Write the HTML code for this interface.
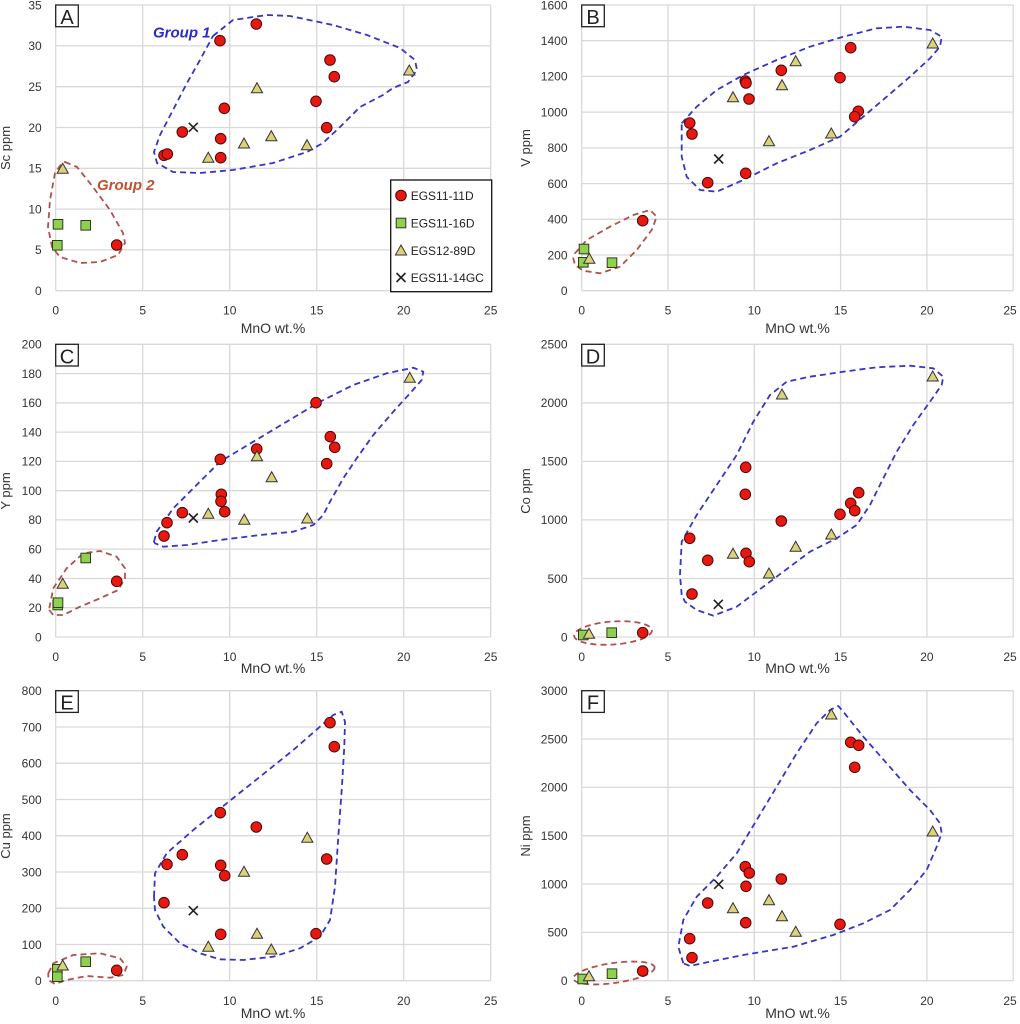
<!DOCTYPE html>
<html><head><meta charset="utf-8"><style>
html,body{margin:0;padding:0;background:#fff;}
svg{display:block;font-family:"Liberation Sans",sans-serif;}
.g{stroke:#d9d9d9;stroke-width:1.3;fill:none}
.t{font-size:12px;fill:#333}
.ax{font-size:14px;fill:#333}
.yt{font-size:13px;fill:#333}
.bl{fill:none;stroke:#3535c8;stroke-width:1.8;stroke-dasharray:6 4;stroke-linejoin:round}
.rd{fill:none;stroke:#b0524b;stroke-width:1.8;stroke-dasharray:6 4;stroke-linejoin:round}
.lb{fill:#fff;stroke:#222;stroke-width:1.3}
.lt{font-size:20px;fill:#222}
</style></head><body>
<svg width="1020" height="1024" viewBox="0 0 1020 1024" xmlns="http://www.w3.org/2000/svg">
<defs>
<g id="c"><circle cx="0" cy="0" r="5.3" fill="#e8170f" stroke="#4a0a0a" stroke-width="1"/></g>
<g id="s"><rect x="-4.8" y="-4.8" width="9.6" height="9.6" fill="#8ed14f" stroke="#2f3a1f" stroke-width="1"/></g>
<g id="tr"><polygon points="0,-6 5.6,4 -5.6,4" fill="#ddd27c" stroke="#333" stroke-width="1"/></g>
<g id="x"><path d="M-4.5 -4.5L4.5 4.5M-4.5 4.5L4.5 -4.5" stroke="#222" stroke-width="1.6"/></g>
</defs>
<rect width="1020" height="1024" fill="#fff"/>

<!-- ===== Panel A ===== -->
<path class="g" d="M55.7 5V290.7M142.7 5V290.7M229.7 5V290.7M316.7 5V290.7M403.7 5V290.7M490.7 5V290.7M55.7 5H490.7M55.7 45.9H490.7M55.7 86.7H490.7M55.7 127.5H490.7M55.7 168.3H490.7M55.7 209.1H490.7M55.7 249.9H490.7M55.7 290.7H490.7"/>
<g class="t" text-anchor="end">
<text x="41.7" y="295">0</text><text x="41.7" y="254.2">5</text><text x="41.7" y="213.4">10</text><text x="41.7" y="172.6">15</text><text x="41.7" y="131.8">20</text><text x="41.7" y="91">25</text><text x="41.7" y="50.2">30</text><text x="41.7" y="9.3">35</text>
</g>
<g class="t" text-anchor="middle">
<text x="55.7" y="314.5">0</text><text x="142.7" y="314.5">5</text><text x="229.7" y="314.5">10</text><text x="316.7" y="314.5">15</text><text x="403.7" y="314.5">20</text><text x="490.7" y="314.5">25</text>
</g>
<text class="ax" x="273" y="333" text-anchor="middle">MnO wt.%</text>
<text class="yt" transform="translate(10,148) rotate(-90)" text-anchor="middle">Sc ppm</text>
<polygon class="bl" points="213,36 233,20 267,15 290,16 333,25 367,35 400,48 415,60 417,70 408,82 393,88 383,95 360,107 340,127 323,143 307,152 273,163 233,170 200,173 173,172 157,163 154,152 160,135 173,110 187,83 200,60"/>
<polygon class="rd" points="65,162 77,167 93,187 110,210 123,233 125,243 118,255 100,262 80,263 60,257 52,247 48,227 50,200 55,173 62,163"/>
<text x="153" y="37.5" font-size="15" font-weight="bold" font-style="italic" fill="#2a2ad0">Group 1</text>
<text x="97" y="190" font-size="15" font-weight="bold" font-style="italic" fill="#c0502e">Group 2</text>
<use href="#c" x="256.3" y="24"/><use href="#c" x="220" y="40.7"/><use href="#c" x="330" y="60"/><use href="#c" x="334.3" y="76.7"/><use href="#c" x="224.3" y="108.3"/><use href="#c" x="316" y="101.3"/><use href="#c" x="182.3" y="132"/><use href="#c" x="326.7" y="127.7"/><use href="#c" x="220.7" y="138.7"/><use href="#c" x="220.7" y="157.7"/><use href="#c" x="164" y="155.3"/><use href="#c" x="167.3" y="154"/><use href="#c" x="116.7" y="245"/>
<use href="#tr" x="257" y="88.7"/><use href="#tr" x="409.3" y="71"/><use href="#tr" x="271.3" y="136.7"/><use href="#tr" x="244" y="144"/><use href="#tr" x="208.3" y="158.3"/><use href="#tr" x="307" y="145.7"/><use href="#tr" x="62.7" y="169.3"/>
<use href="#s" x="58" y="224.3"/><use href="#s" x="85.7" y="225.3"/><use href="#s" x="57.3" y="245.3"/>
<use href="#x" x="193.3" y="127.3"/>
<rect class="lb" x="55.7" y="5" width="22.6" height="21.7"/>
<text class="lt" x="67" y="24" text-anchor="middle">A</text>
<!-- legend -->
<rect x="390.7" y="180" width="101" height="111.7" fill="#fff" stroke="#111" stroke-width="1.3"/>
<use href="#c" x="401" y="195.5"/><use href="#s" x="401" y="223"/><use href="#tr" x="401" y="251"/><use href="#x" x="401" y="277.5"/>
<g font-size="12" fill="#222">
<text x="410.7" y="199.8">EGS11-11D</text><text x="410.7" y="227.3">EGS11-16D</text><text x="410.7" y="254.8">EGS12-89D</text><text x="410.7" y="281.8">EGS11-14GC</text>
</g>

<!-- ===== Panel B ===== -->
<path class="g" d="M581.7 5V290.7M668 5V290.7M754.3 5V290.7M840.6 5V290.7M926.9 5V290.7M1013.2 5V290.7M581.7 5H1013.2M581.7 40.7H1013.2M581.7 76.4H1013.2M581.7 112.1H1013.2M581.7 147.9H1013.2M581.7 183.6H1013.2M581.7 219.3H1013.2M581.7 255H1013.2M581.7 290.7H1013.2"/>
<g class="t" text-anchor="end">
<text x="567.5" y="295">0</text><text x="567.5" y="259.3">200</text><text x="567.5" y="223.6">400</text><text x="567.5" y="187.9">600</text><text x="567.5" y="152.2">800</text><text x="567.5" y="116.4">1000</text><text x="567.5" y="80.7">1200</text><text x="567.5" y="45">1400</text><text x="567.5" y="9.3">1600</text>
</g>
<g class="t" text-anchor="middle">
<text x="581.7" y="314.5">0</text><text x="668" y="314.5">5</text><text x="754.3" y="314.5">10</text><text x="840.6" y="314.5">15</text><text x="926.9" y="314.5">20</text><text x="1010" y="314.5">25</text>
</g>
<text class="ax" x="797.5" y="333" text-anchor="middle">MnO wt.%</text>
<text class="yt" transform="translate(530,148) rotate(-90)" text-anchor="middle">V ppm</text>
<polygon class="bl" points="681.7,123.3 696.7,106.7 716.7,90 743.3,75 776.7,60 810,46.7 843.3,36.7 876.7,28.3 903.3,26.7 930,30 941.7,36.7 940,46.7 930,58.3 910,76.7 886.7,96.7 863.3,116.7 840,136.7 810,150 776.7,163.3 743.3,180 716.7,191.7 700,190 686.7,176.7 681.7,156.7 681.7,136.7"/>
<polygon class="rd" points="575,253.3 586.7,240 610,226.7 633.3,215 650,210 656.7,216.7 651.7,230 636.7,250 620,266.7 600,273.3 583.3,270.7 575,265 573.3,258.3"/>
<use href="#c" x="850.7" y="47.7"/><use href="#c" x="781.3" y="70.3"/><use href="#c" x="840" y="77.7"/><use href="#c" x="745.3" y="81"/><use href="#c" x="746" y="83"/><use href="#c" x="749" y="99"/><use href="#c" x="858.3" y="111.3"/><use href="#c" x="854.7" y="116.7"/><use href="#c" x="689.7" y="123"/><use href="#c" x="692" y="134"/><use href="#c" x="745.7" y="173.3"/><use href="#c" x="707.7" y="182.7"/><use href="#c" x="642.7" y="220.7"/>
<use href="#s" x="584" y="249"/><use href="#s" x="583.3" y="262.3"/><use href="#s" x="612" y="262.7"/>
<use href="#tr" x="932.7" y="44"/><use href="#tr" x="795.7" y="61.7"/><use href="#tr" x="782" y="85.7"/><use href="#tr" x="733" y="97.7"/><use href="#tr" x="769" y="141.7"/><use href="#tr" x="831.3" y="134"/><use href="#tr" x="589.3" y="259.3"/>
<use href="#x" x="718.7" y="159"/>
<rect class="lb" x="581.7" y="5" width="22.6" height="21.7"/>
<text class="lt" x="593" y="24" text-anchor="middle">B</text>

<!-- ===== Panel C ===== -->
<path class="g" d="M55.7 344.3V637M142.7 344.3V637M229.7 344.3V637M316.7 344.3V637M403.7 344.3V637M490.7 344.3V637M55.7 344.3H490.7M55.7 373.6H490.7M55.7 402.8H490.7M55.7 432.1H490.7M55.7 461.4H490.7M55.7 490.7H490.7M55.7 519.9H490.7M55.7 549.2H490.7M55.7 578.5H490.7M55.7 607.7H490.7M55.7 637H490.7"/>
<g class="t" text-anchor="end">
<text x="41.7" y="641.3">0</text><text x="41.7" y="612">20</text><text x="41.7" y="582.8">40</text><text x="41.7" y="553.5">60</text><text x="41.7" y="524.2">80</text><text x="41.7" y="495">100</text><text x="41.7" y="465.7">120</text><text x="41.7" y="436.4">140</text><text x="41.7" y="407.1">160</text><text x="41.7" y="377.9">180</text><text x="41.7" y="348.6">200</text>
</g>
<g class="t" text-anchor="middle">
<text x="55.7" y="661">0</text><text x="142.7" y="661">5</text><text x="229.7" y="661">10</text><text x="316.7" y="661">15</text><text x="403.7" y="661">20</text><text x="490.7" y="661">25</text>
</g>
<text class="ax" x="273" y="673" text-anchor="middle">MnO wt.%</text>
<text class="yt" transform="translate(10,491) rotate(-90)" text-anchor="middle">Y ppm</text>
<polygon class="bl" points="154,541.7 156.7,531.7 173.3,508.3 193.3,488.3 220,461.7 253.3,441.7 286.7,421.7 320,401.7 353.3,385 386.7,373.3 413.3,367.7 423.3,371.7 421.7,380 410,393.3 393.3,411.7 373.3,435 356.7,458.3 343.3,478.3 330,501.7 323.3,515 313.3,525 293.3,531.7 260,535 220,540 186.7,545 163.3,546.7 155,543.3"/>
<polygon class="rd" points="49.3,608.3 53.3,588.3 66.7,568.3 83.3,553.3 100,551 116.7,556.7 125,568.3 125,578.3 118.3,590 100,598.3 80,606.7 63.3,615 53.3,615 49.3,610"/>
<use href="#c" x="316" y="402.7"/><use href="#c" x="330.3" y="436.7"/><use href="#c" x="334.7" y="447.3"/><use href="#c" x="256.7" y="449"/><use href="#c" x="220.3" y="459.3"/><use href="#c" x="326.7" y="463.7"/><use href="#c" x="221.3" y="494.3"/><use href="#c" x="221" y="501.3"/><use href="#c" x="224.7" y="511.7"/><use href="#c" x="182.3" y="512.7"/><use href="#c" x="167" y="522.7"/><use href="#c" x="164" y="536"/><use href="#c" x="116.7" y="581.3"/>
<use href="#tr" x="409.7" y="378.3"/><use href="#tr" x="257" y="456.7"/><use href="#tr" x="271.7" y="477.7"/><use href="#tr" x="208.3" y="514.3"/><use href="#tr" x="244.3" y="520.3"/><use href="#tr" x="307.3" y="519"/><use href="#tr" x="62.7" y="584.3"/>
<use href="#s" x="85.7" y="558"/><use href="#s" x="57.7" y="605"/><use href="#s" x="58" y="602.7"/>
<use href="#x" x="193.3" y="518"/>
<rect class="lb" x="55.7" y="344.3" width="22.6" height="21.7"/>
<text class="lt" x="67" y="363.3" text-anchor="middle">C</text>

<!-- ===== Panel D ===== -->
<path class="g" d="M581.7 344.3V637M668 344.3V637M754.3 344.3V637M840.6 344.3V637M926.9 344.3V637M1013.2 344.3V637M581.7 344.3H1013.2M581.7 402.8H1013.2M581.7 461.4H1013.2M581.7 519.9H1013.2M581.7 578.5H1013.2M581.7 637H1013.2"/>
<g class="t" text-anchor="end">
<text x="567.5" y="641.3">0</text><text x="567.5" y="582.8">500</text><text x="567.5" y="524.2">1000</text><text x="567.5" y="465.7">1500</text><text x="567.5" y="407.1">2000</text><text x="567.5" y="348.6">2500</text>
</g>
<g class="t" text-anchor="middle">
<text x="581.7" y="661">0</text><text x="668" y="661">5</text><text x="754.3" y="661">10</text><text x="840.6" y="661">15</text><text x="926.9" y="661">20</text><text x="1010" y="661">25</text>
</g>
<text class="ax" x="797.5" y="673" text-anchor="middle">MnO wt.%</text>
<text class="yt" transform="translate(530,491) rotate(-90)" text-anchor="middle">Co ppm</text>
<polygon class="bl" points="681.7,595 680,575 681.7,541.7 696.7,515 716.7,485 736.7,455 753.3,421.7 770,395 786.7,381.7 810,376.7 843.3,371.7 876.7,367.3 910,365.7 933.3,368.3 943.3,376.7 941.7,385 930,401.7 913.3,425 896.7,451.7 883.3,478.3 870,505 856.7,525 836.7,538.3 810,551.7 783.3,571.7 756.7,591.7 736.7,606.7 713.3,615.7 696.7,610 685,601.7"/>
<ellipse class="rd" cx="613" cy="633" rx="39" ry="11.5" transform="rotate(-4 613 633)"/>
<use href="#c" x="745.7" y="467.3"/><use href="#c" x="745.3" y="494.3"/><use href="#c" x="858.7" y="492.7"/><use href="#c" x="850.7" y="503.3"/><use href="#c" x="854.7" y="510.7"/><use href="#c" x="840" y="514.3"/><use href="#c" x="781.3" y="521"/><use href="#c" x="689.7" y="538.3"/><use href="#c" x="746" y="553.3"/><use href="#c" x="749.3" y="561.7"/><use href="#c" x="707.7" y="560.3"/><use href="#c" x="692" y="594"/><use href="#c" x="642.7" y="632.7"/>
<use href="#s" x="583.3" y="635"/><use href="#s" x="611.7" y="632.7"/>
<use href="#tr" x="932.7" y="377"/><use href="#tr" x="782" y="395"/><use href="#tr" x="831.3" y="535"/><use href="#tr" x="795.7" y="547.3"/><use href="#tr" x="733" y="554.3"/><use href="#tr" x="769" y="574"/><use href="#tr" x="589" y="634.3"/>
<use href="#x" x="718.3" y="604.3"/>
<rect class="lb" x="581.7" y="344.3" width="22.6" height="21.7"/>
<text class="lt" x="593" y="363.3" text-anchor="middle">D</text>

<!-- ===== Panel E ===== -->
<path class="g" d="M55.7 690.7V980.7M142.7 690.7V980.7M229.7 690.7V980.7M316.7 690.7V980.7M403.7 690.7V980.7M490.7 690.7V980.7M55.7 690.7H490.7M55.7 727H490.7M55.7 763.2H490.7M55.7 799.5H490.7M55.7 835.7H490.7M55.7 872H490.7M55.7 908.2H490.7M55.7 944.5H490.7M55.7 980.7H490.7"/>
<g class="t" text-anchor="end">
<text x="41.7" y="985">0</text><text x="41.7" y="948.8">100</text><text x="41.7" y="912.5">200</text><text x="41.7" y="876.3">300</text><text x="41.7" y="840">400</text><text x="41.7" y="803.8">500</text><text x="41.7" y="767.5">600</text><text x="41.7" y="731.3">700</text><text x="41.7" y="695">800</text>
</g>
<g class="t" text-anchor="middle">
<text x="55.7" y="1005">0</text><text x="142.7" y="1005">5</text><text x="229.7" y="1005">10</text><text x="316.7" y="1005">15</text><text x="403.7" y="1005">20</text><text x="490.7" y="1005">25</text>
</g>
<text class="ax" x="273" y="1018" text-anchor="middle">MnO wt.%</text>
<text class="yt" transform="translate(10,836) rotate(-90)" text-anchor="middle">Cu ppm</text>
<polygon class="bl" points="154,896.7 155,873.3 166.7,853.3 193.3,830 226.7,803.3 260,776.7 293.3,750 320,726.7 333.3,715 341.7,711.7 345,721.7 344.3,746.7 341.7,790 338.3,836.7 335,886.7 330,920 320,936.7 300,948.3 273.3,956.7 243.3,960 220,959.3 200,953.3 180,943.3 163.3,926.7 155,910"/>
<polygon class="rd" points="48.3,973.3 53.3,963.3 73.3,955 100,953.3 120,958.3 126.7,966.7 123.3,975 110,977.7 86.7,976 66.7,980 55,984 48.3,980"/>
<use href="#c" x="330" y="722.7"/><use href="#c" x="334.3" y="746.7"/><use href="#c" x="220.3" y="812.7"/><use href="#c" x="256.3" y="827"/><use href="#c" x="326.7" y="859"/><use href="#c" x="182.3" y="854.7"/><use href="#c" x="167" y="864.3"/><use href="#c" x="220.7" y="865.3"/><use href="#c" x="224.7" y="875.7"/><use href="#c" x="164" y="902.7"/><use href="#c" x="220.7" y="934.3"/><use href="#c" x="316" y="933.7"/><use href="#c" x="116.7" y="970.3"/>
<use href="#s" x="57.3" y="969.3"/><use href="#s" x="57.3" y="976.7"/><use href="#s" x="85.7" y="961.7"/>
<use href="#tr" x="307.3" y="838.3"/><use href="#tr" x="244" y="872.3"/><use href="#tr" x="257" y="934.3"/><use href="#tr" x="208.3" y="947.3"/><use href="#tr" x="271.3" y="950"/><use href="#tr" x="62.7" y="966"/>
<use href="#x" x="193.3" y="910.7"/>
<rect class="lb" x="55.7" y="690.7" width="22.6" height="21.7"/>
<text class="lt" x="67" y="709.7" text-anchor="middle">E</text>

<!-- ===== Panel F ===== -->
<path class="g" d="M581.7 690.7V980.7M668 690.7V980.7M754.3 690.7V980.7M840.6 690.7V980.7M926.9 690.7V980.7M1013.2 690.7V980.7M581.7 690.7H1013.2M581.7 739H1013.2M581.7 787.4H1013.2M581.7 835.7H1013.2M581.7 884H1013.2M581.7 932.4H1013.2M581.7 980.7H1013.2"/>
<g class="t" text-anchor="end">
<text x="567.5" y="985">0</text><text x="567.5" y="936.7">500</text><text x="567.5" y="888.3">1000</text><text x="567.5" y="840">1500</text><text x="567.5" y="791.7">2000</text><text x="567.5" y="743.3">2500</text><text x="567.5" y="695">3000</text>
</g>
<g class="t" text-anchor="middle">
<text x="581.7" y="1005">0</text><text x="668" y="1005">5</text><text x="754.3" y="1005">10</text><text x="840.6" y="1005">15</text><text x="926.9" y="1005">20</text><text x="1010" y="1005">25</text>
</g>
<text class="ax" x="797.5" y="1018" text-anchor="middle">MnO wt.%</text>
<text class="yt" transform="translate(530,836) rotate(-90)" text-anchor="middle">Ni ppm</text>
<polygon class="bl" points="683.3,963.3 678.3,946.7 683.3,920 696.7,896.7 716.7,876.7 736.7,853.3 756.7,820 776.7,786.7 796.7,753.3 816.7,723.3 830,710 838.3,706 843.3,711.7 863.3,736.7 886.7,763.3 910,790 930,810 940,823.3 941.7,833.3 936.7,846.7 926.7,870 910,890 890,910 863.3,923.3 833.3,935 793.3,946.7 743.3,955 710,961.7 690,966"/>
<ellipse class="rd" cx="614" cy="973" rx="41" ry="10" transform="rotate(-8 614 973)"/>
<use href="#c" x="850.7" y="742.3"/><use href="#c" x="858.7" y="745.3"/><use href="#c" x="854.7" y="767.3"/><use href="#c" x="745.3" y="866.7"/><use href="#c" x="749.3" y="873"/><use href="#c" x="781.3" y="879"/><use href="#c" x="746" y="886.3"/><use href="#c" x="707.7" y="903"/><use href="#c" x="745.7" y="922.7"/><use href="#c" x="840" y="924.3"/><use href="#c" x="689.7" y="938.7"/><use href="#c" x="692" y="957.7"/><use href="#c" x="642.7" y="971"/>
<use href="#s" x="612" y="973.7"/><use href="#s" x="582.7" y="979"/>
<use href="#tr" x="831.3" y="715"/><use href="#tr" x="932.7" y="832"/><use href="#tr" x="769" y="900.7"/><use href="#tr" x="733" y="908.7"/><use href="#tr" x="782" y="916.7"/><use href="#tr" x="795.7" y="932.3"/><use href="#tr" x="589" y="976.7"/>
<use href="#x" x="718.7" y="884.3"/>
<rect class="lb" x="581.7" y="690.7" width="22.6" height="21.7"/>
<text class="lt" x="593" y="709.7" text-anchor="middle">F</text>
</svg>
</body></html>
